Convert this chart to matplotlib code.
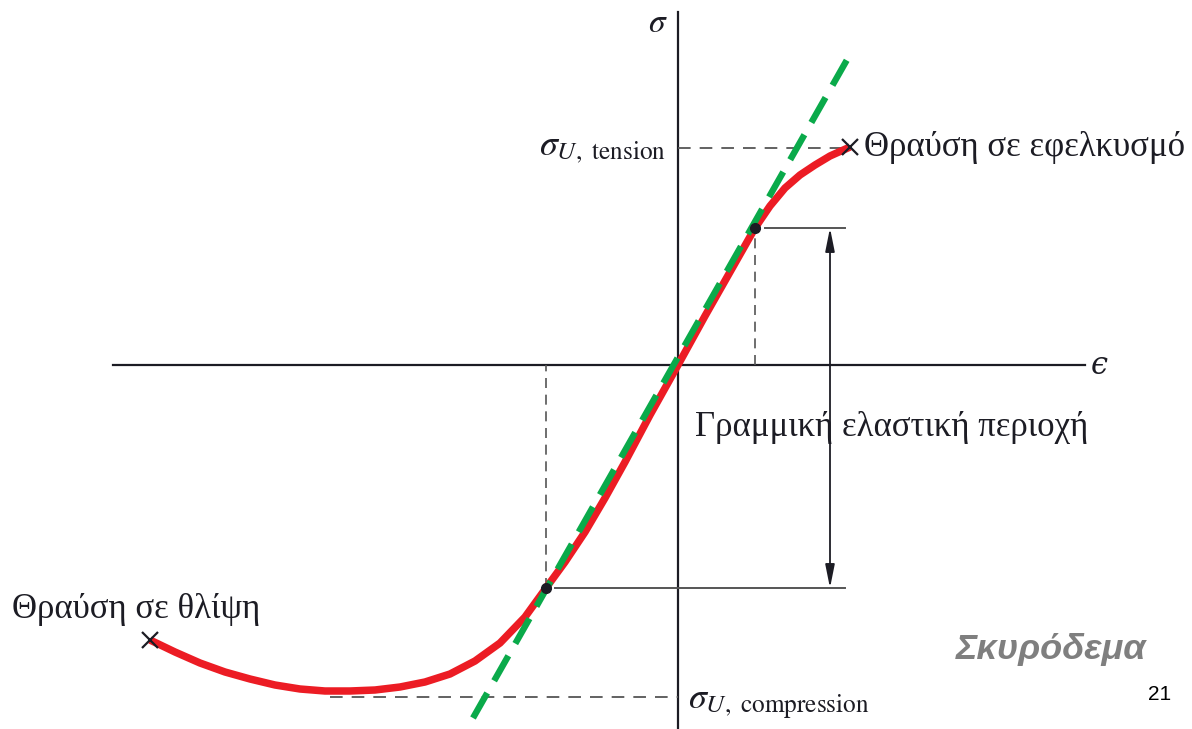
import matplotlib.pyplot as plt
from matplotlib.lines import Line2D

plt.rcParams['mathtext.fontset'] = 'stix'

# stress-strain curve of concrete (strain, stress in arbitrary units)
curve_eps = [-5.28, -5.03, -4.78, -4.53, -4.28, -4.03, -3.78, -3.53, -3.28,
             -3.03, -2.78, -2.53, -2.28, -2.03, -1.78, -1.53, -1.32, -1.13,
             -0.93, -0.73, -0.53, -0.28, 0.00, 0.27, 0.52, 0.77, 0.92,
             1.07, 1.22, 1.37, 1.52, 1.72]
curve_sig = [-2.75, -2.87, -2.98, -3.07, -3.14, -3.20, -3.24, -3.26, -3.26,
             -3.25, -3.22, -3.17, -3.09, -2.96, -2.78, -2.52, -2.23, -1.97,
             -1.67, -1.33, -0.97, -0.50, 0.00, 0.49, 0.93, 1.37, 1.59,
             1.77, 1.90, 2.00, 2.09, 2.18]

# tangent line of the linear elastic part
tangent_eps = [-2.05, 1.70]
tangent_sig = [-3.53, 3.07]

# ends of the linear elastic region
lim_upper = (0.77, 1.37)
lim_lower = (-1.32, -2.23)

# fracture points and ultimate stresses
frac_tension = (1.72, 2.18)
frac_compr = (-5.28, -2.75)
sigma_ut = 2.17
sigma_uc = -3.32
sigma_uc_eps = -3.48

RED = '#ec1c24'
GREEN = '#0aaa4a'
INK = '#1c1c24'
GREY = '#555555'

fig = plt.figure(figsize=(11.92, 7.29), dpi=100)
ax = fig.add_axes([0, 0, 1, 1])
ax.set_xlim(-6.78, 5.14)
ax.set_ylim(-3.64, 3.65)
ax.axis('off')

# axes of the diagram
ax.plot([-5.65, 4.07], [0, 0], color=INK, lw=1.6)
ax.plot([0, 0], [-3.7, 3.53], color=INK, lw=1.6)
ax.text(4.13, 0.0, 'ϵ', fontsize=22, color=INK, family='DejaVu Serif',
        style='italic', ha='left', va='center')
ax.text(-0.1, 3.43, r'$\sigma$', fontsize=24, color=INK, ha='right', va='center')

# ultimate stress levels
dash = dict(color=GREY, lw=1.3, dashes=(7, 5))
ax.plot([0, frac_tension[0]], [sigma_ut, sigma_ut], **dash)
ax.plot([sigma_uc_eps, 0], [sigma_uc, sigma_uc], **dash)
ax.text(-0.12, sigma_ut, r'$\sigma_{U,\ \mathrm{tension}}$', fontsize=26,
        color=INK, ha='right', va='center')
ax.text(0.1, sigma_uc - 0.08, r'$\sigma_{U,\ \mathrm{compression}}$', fontsize=26,
        color=INK, ha='left', va='center')

# limits of the linear elastic region
ax.plot([lim_upper[0], lim_upper[0]], [0, lim_upper[1]], color=GREY, lw=1.2, dashes=(6, 4))
ax.plot([lim_lower[0], lim_lower[0]], [lim_lower[1], 0], color=GREY, lw=1.2, dashes=(6, 4))
ax.plot([lim_upper[0] + 0.1, 1.67], [lim_upper[1], lim_upper[1]], color=GREY, lw=1.4)
ax.plot([lim_lower[0] + 0.09, 1.67], [lim_lower[1], lim_lower[1]], color=GREY, lw=1.4)
ax.annotate('', xy=(1.52, lim_upper[1]), xytext=(1.52, lim_lower[1]),
            arrowprops=dict(arrowstyle='<|-|>,head_length=1.4,head_width=0.28',
                            color=INK, lw=1.3, shrinkA=0, shrinkB=0))
ax.text(0.17, -0.63, 'Γραμμική ελαστική περιοχή', fontsize=25, color=INK,
        family='Liberation Serif', ha='left', va='center')

# curve and tangent
ax.plot(curve_eps, curve_sig, color=RED, lw=5.4, solid_joinstyle='round',
        solid_capstyle='butt', zorder=3)
ax.add_line(Line2D(tangent_eps, tangent_sig, color=GREEN, lw=4.6,
                   dashes=(4.5, 2.2), zorder=4))
ax.plot([lim_upper[0], lim_lower[0]], [lim_upper[1], lim_lower[1]], 'o',
        color=INK, ms=7, zorder=5)

# fracture marks
ax.plot(*frac_tension, 'x', color=INK, ms=11, mew=1.6, zorder=5)
ax.plot(*frac_compr, 'x', color=INK, ms=11, mew=1.6, zorder=5)
ax.text(1.86, 2.18, 'Θραύση σε εφελκυσμό', fontsize=25, color=INK,
        family='Liberation Serif', ha='left', va='center')
ax.text(-6.66, -2.44, 'Θραύση σε θλίψη', fontsize=25, color=INK,
        family='Liberation Serif', ha='left', va='center')

ax.text(4.68, -2.84, 'Σκυρόδεμα', fontsize=26, color='#7f7f7f',
        family='Liberation Sans', weight='bold', style='italic',
        ha='right', va='center')
ax.text(4.93, -3.30, '21', fontsize=15, color='black',
        family='Liberation Sans', ha='right', va='center')

fig.savefig('out.png', dpi=100)
